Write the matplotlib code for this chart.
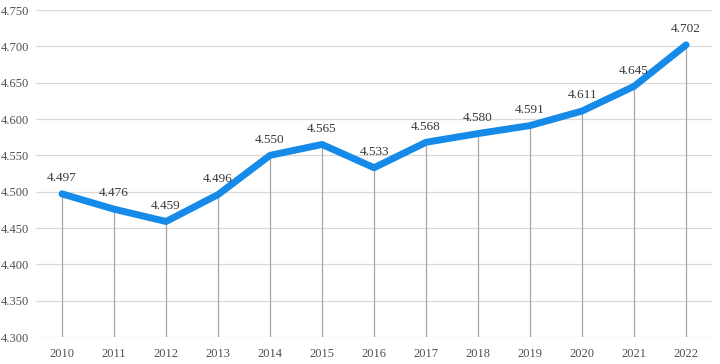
import matplotlib
matplotlib.use("Agg")
import matplotlib.pyplot as plt
import numpy as np

years = ["2010", "2011", "2012", "2013", "2014", "2015", "2016",
         "2017", "2018", "2019", "2020", "2021", "2022"]
values = [4.497, 4.476, 4.459, 4.496, 4.550, 4.565, 4.533,
          4.568, 4.580, 4.591, 4.611, 4.645, 4.702]
yticks = [4.300, 4.350, 4.400, 4.450, 4.500, 4.550, 4.600, 4.650, 4.700, 4.750]

plt.rcParams["font.family"] = ["Liberation Serif", "DejaVu Serif"]

fig = plt.figure(figsize=(7.2, 3.64), dpi=100)
ax = fig.add_axes([0.05, 0.074, 0.939, 0.8985])

x = np.arange(len(years))
ymin = yticks[0]

# gray grid
for t in yticks:
    ax.axhline(t, color="#d9d9d9", lw=0.9, zorder=0)

# drop lines
ax.vlines(x, ymin, values, color="#a6a6a6", lw=0.9, zorder=1)

ax.plot(x, values, color="#168ae8", lw=5, solid_capstyle="round",
        solid_joinstyle="round", zorder=3)

for xi, v in zip(x, values):
    ax.annotate(f"{v:.3f}", (xi, v), xytext=(0, 7), textcoords="offset points",
                ha="center", va="bottom", fontsize=9.5, color="#3a3a3a", zorder=4)

ax.set_xlim(-0.5, len(years) - 0.5)
ax.set_ylim(yticks[0], yticks[-1])
ax.set_xticks(x)
ax.set_xticklabels(years)
ax.set_yticks(yticks)
ax.set_yticklabels([f"{t:.3f}" for t in yticks])
ax.tick_params(axis="both", length=0, labelsize=9, colors="#505050")
ax.tick_params(axis="x", pad=8)
ax.tick_params(axis="y", pad=5)
for s in ax.spines.values():
    s.set_visible(False)

fig.savefig("out.png", dpi=100)
